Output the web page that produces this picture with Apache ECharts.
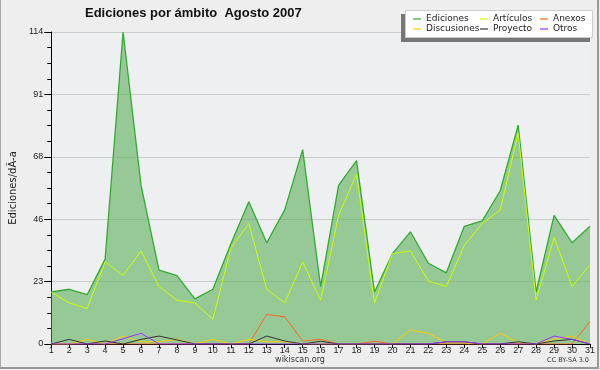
<!DOCTYPE html>
<html><head><meta charset="utf-8">
<script src="https://cdn.jsdelivr.net/npm/echarts@6/dist/echarts.min.js"></script>
<style>html,body{margin:0;padding:0;background:#fff}#c{width:600px;height:370px}</style>
</head><body><div id="c"></div>
<script>
const days = ['1','2','3','4','5','6','7','8','9','10','11','12','13','14','15','16','17','18','19','20','21','22','23','24','25','26','27','28','29','30','31'];
const yTicks = [0, 23, 46, 68, 91, 114];
const ediciones   = [19,20,18,31,114,58,27,25,16.5,20,36.5,52,37,49,71,21,58,67,19,33,41,29.5,26,43,45,56,80,19,47,37,43];
const articulos   = [19,15,13,30,25,34,21,16,15,9,35,44,20,15,30,16,47,62,15,33,34,23,21,36,44,49,77,16,39,21,29];
const anexos      = [0,0,0,0,0,0,0,0,0,0,0,0,10.8,9.9,1.1,1.7,0,0,1,0,0,0,0,0,0,0,0,0,0,0,8.2];
const discusiones = [0,0,1.7,0,2.9,0.8,0.8,1.7,0,1.7,0,1.7,0.8,0.8,0,0,0,0,0,0,5.1,3.9,0.5,0.5,0,3.9,0.5,0,1.7,2.9,0];
const proyecto    = [0,1.7,0,1.1,0,1.7,2.9,1.5,0,0,0,0,2.9,1.1,0,1,0,0,0,0,0,0,0.8,0.8,0,0,0.8,0,1.1,1.7,0];
const otros       = [0,0,0,0,1.9,3.9,0,0,0,0,0,0,0,0,0,0,0,0,0,0,0,0,0.8,0.8,0,0,0,0,2.9,1.7,0];

const chart = echarts.init(document.getElementById('c'), null, {renderer:'canvas'});
const axisFont = '"Liberation Sans Narrow","Liberation Sans",sans-serif';
const legFont = '"DejaVu Sans",sans-serif';
function line(name, data, color, extra) {
  return Object.assign({
    name, type:'line', data, symbol:'none', smooth:false,
    lineStyle:{color, width:1}, itemStyle:{color}, z:3
  }, extra || {});
}
const legendText = {fontFamily:legFont, fontSize:9, color:'#222', lineHeight:10};
const legBase = {orient:'vertical', top:14, itemGap:0, icon:'rect', itemWidth:8, itemHeight:1.2, z:10, selectedMode:false, textStyle:legendText, padding:0};
chart.setOption({
  backgroundColor:'#eeeeee',
  animation:false,
  title:{text:'Ediciones por ámbito  Agosto 2007', left:85, top:7, padding:0,
    textStyle:{fontFamily:'"Liberation Sans",sans-serif', fontWeight:'bold', fontSize:13, color:'#111'}},
  grid:{left:47, right:10, top:32, bottom:26, show:true, backgroundColor:'#eeeff1', borderWidth:0},
  legend:[
    Object.assign({}, legBase, {left:413, data:['Ediciones','Discusiones']}),
    Object.assign({}, legBase, {left:480, data:['Artículos','Proyecto']}),
    Object.assign({}, legBase, {left:540, data:['Anexos','Otros']})
  ],
  xAxis:{type:'category', data:days, boundaryGap:false,
    axisLine:{lineStyle:{color:'#000', width:1}},
    axisTick:{length:4, lineStyle:{color:'#000'}},
    axisLabel:{margin:2, fontFamily:axisFont, fontSize:9, color:'#222', interval:0},
    splitLine:{show:false}},
  yAxis:{type:'value', min:0, max:114, interval:22.8,
    name:'Ediciones/dÃ-a', nameLocation:'middle', nameGap:32, nameRotate:90,
    nameTextStyle:{fontFamily:legFont, fontSize:10, color:'#222'},
    axisLine:{show:true, lineStyle:{color:'#000'}},
    axisTick:{show:true, length:7, lineStyle:{color:'#000'}},
    minorTick:{show:true, splitNumber:4, length:4, lineStyle:{color:'#000'}},
    axisLabel:{margin:8, fontFamily:axisFont, fontSize:9, color:'#222',
      formatter:(v)=>{ let best=yTicks[0]; yTicks.forEach(t=>{if(Math.abs(t-v)<Math.abs(best-v))best=t;}); return String(best);} },
    splitLine:{show:true, lineStyle:{color:'#cccccc', width:1}}},
  graphic:[
    {type:'rect', z:8, silent:true, shape:{x:401,y:14,width:189,height:28}, style:{fill:'#777777'}},
    {type:'rect', z:9, silent:true, shape:{x:405.5,y:10.5,width:187,height:27}, style:{fill:'#ffffff', stroke:'#cccccc', lineWidth:1}},
    {type:'line', z:9, silent:true, shape:{x1:0.5,y1:0,x2:0.5,y2:368}, style:{stroke:'#aaaaaa', lineWidth:1}},
    {type:'line', z:9, silent:true, shape:{x1:598,y1:0,x2:598,y2:368}, style:{stroke:'#999999', lineWidth:2}},
    {type:'line', z:9, silent:true, shape:{x1:0,y1:368,x2:599,y2:368}, style:{stroke:'#999999', lineWidth:2}},
    {type:'text', z:9, silent:true, left:'center', top:356, style:{text:'wikiscan.org', fontFamily:legFont, fontSize:8, fill:'#333'}},
    {type:'text', z:9, silent:true, right:11, top:357, style:{text:'CC BY-SA 3.0', fontFamily:legFont, fontSize:6.5, fill:'#333'}}
  ],
  series:[
    line('Ediciones', ediciones, '#33aa33', {lineStyle:{color:'#33aa33', width:1.3}, areaStyle:{color:'rgba(96,177,94,0.62)', opacity:1}, z:2}),
    line('Artículos', articulos, '#ccff00'),
    line('Anexos', anexos, '#ff6622'),
    line('Discusiones', discusiones, '#ffcc00'),
    line('Proyecto', proyecto, '#333333'),
    line('Otros', otros, '#9933ff')
  ]
});
</script></body></html>
